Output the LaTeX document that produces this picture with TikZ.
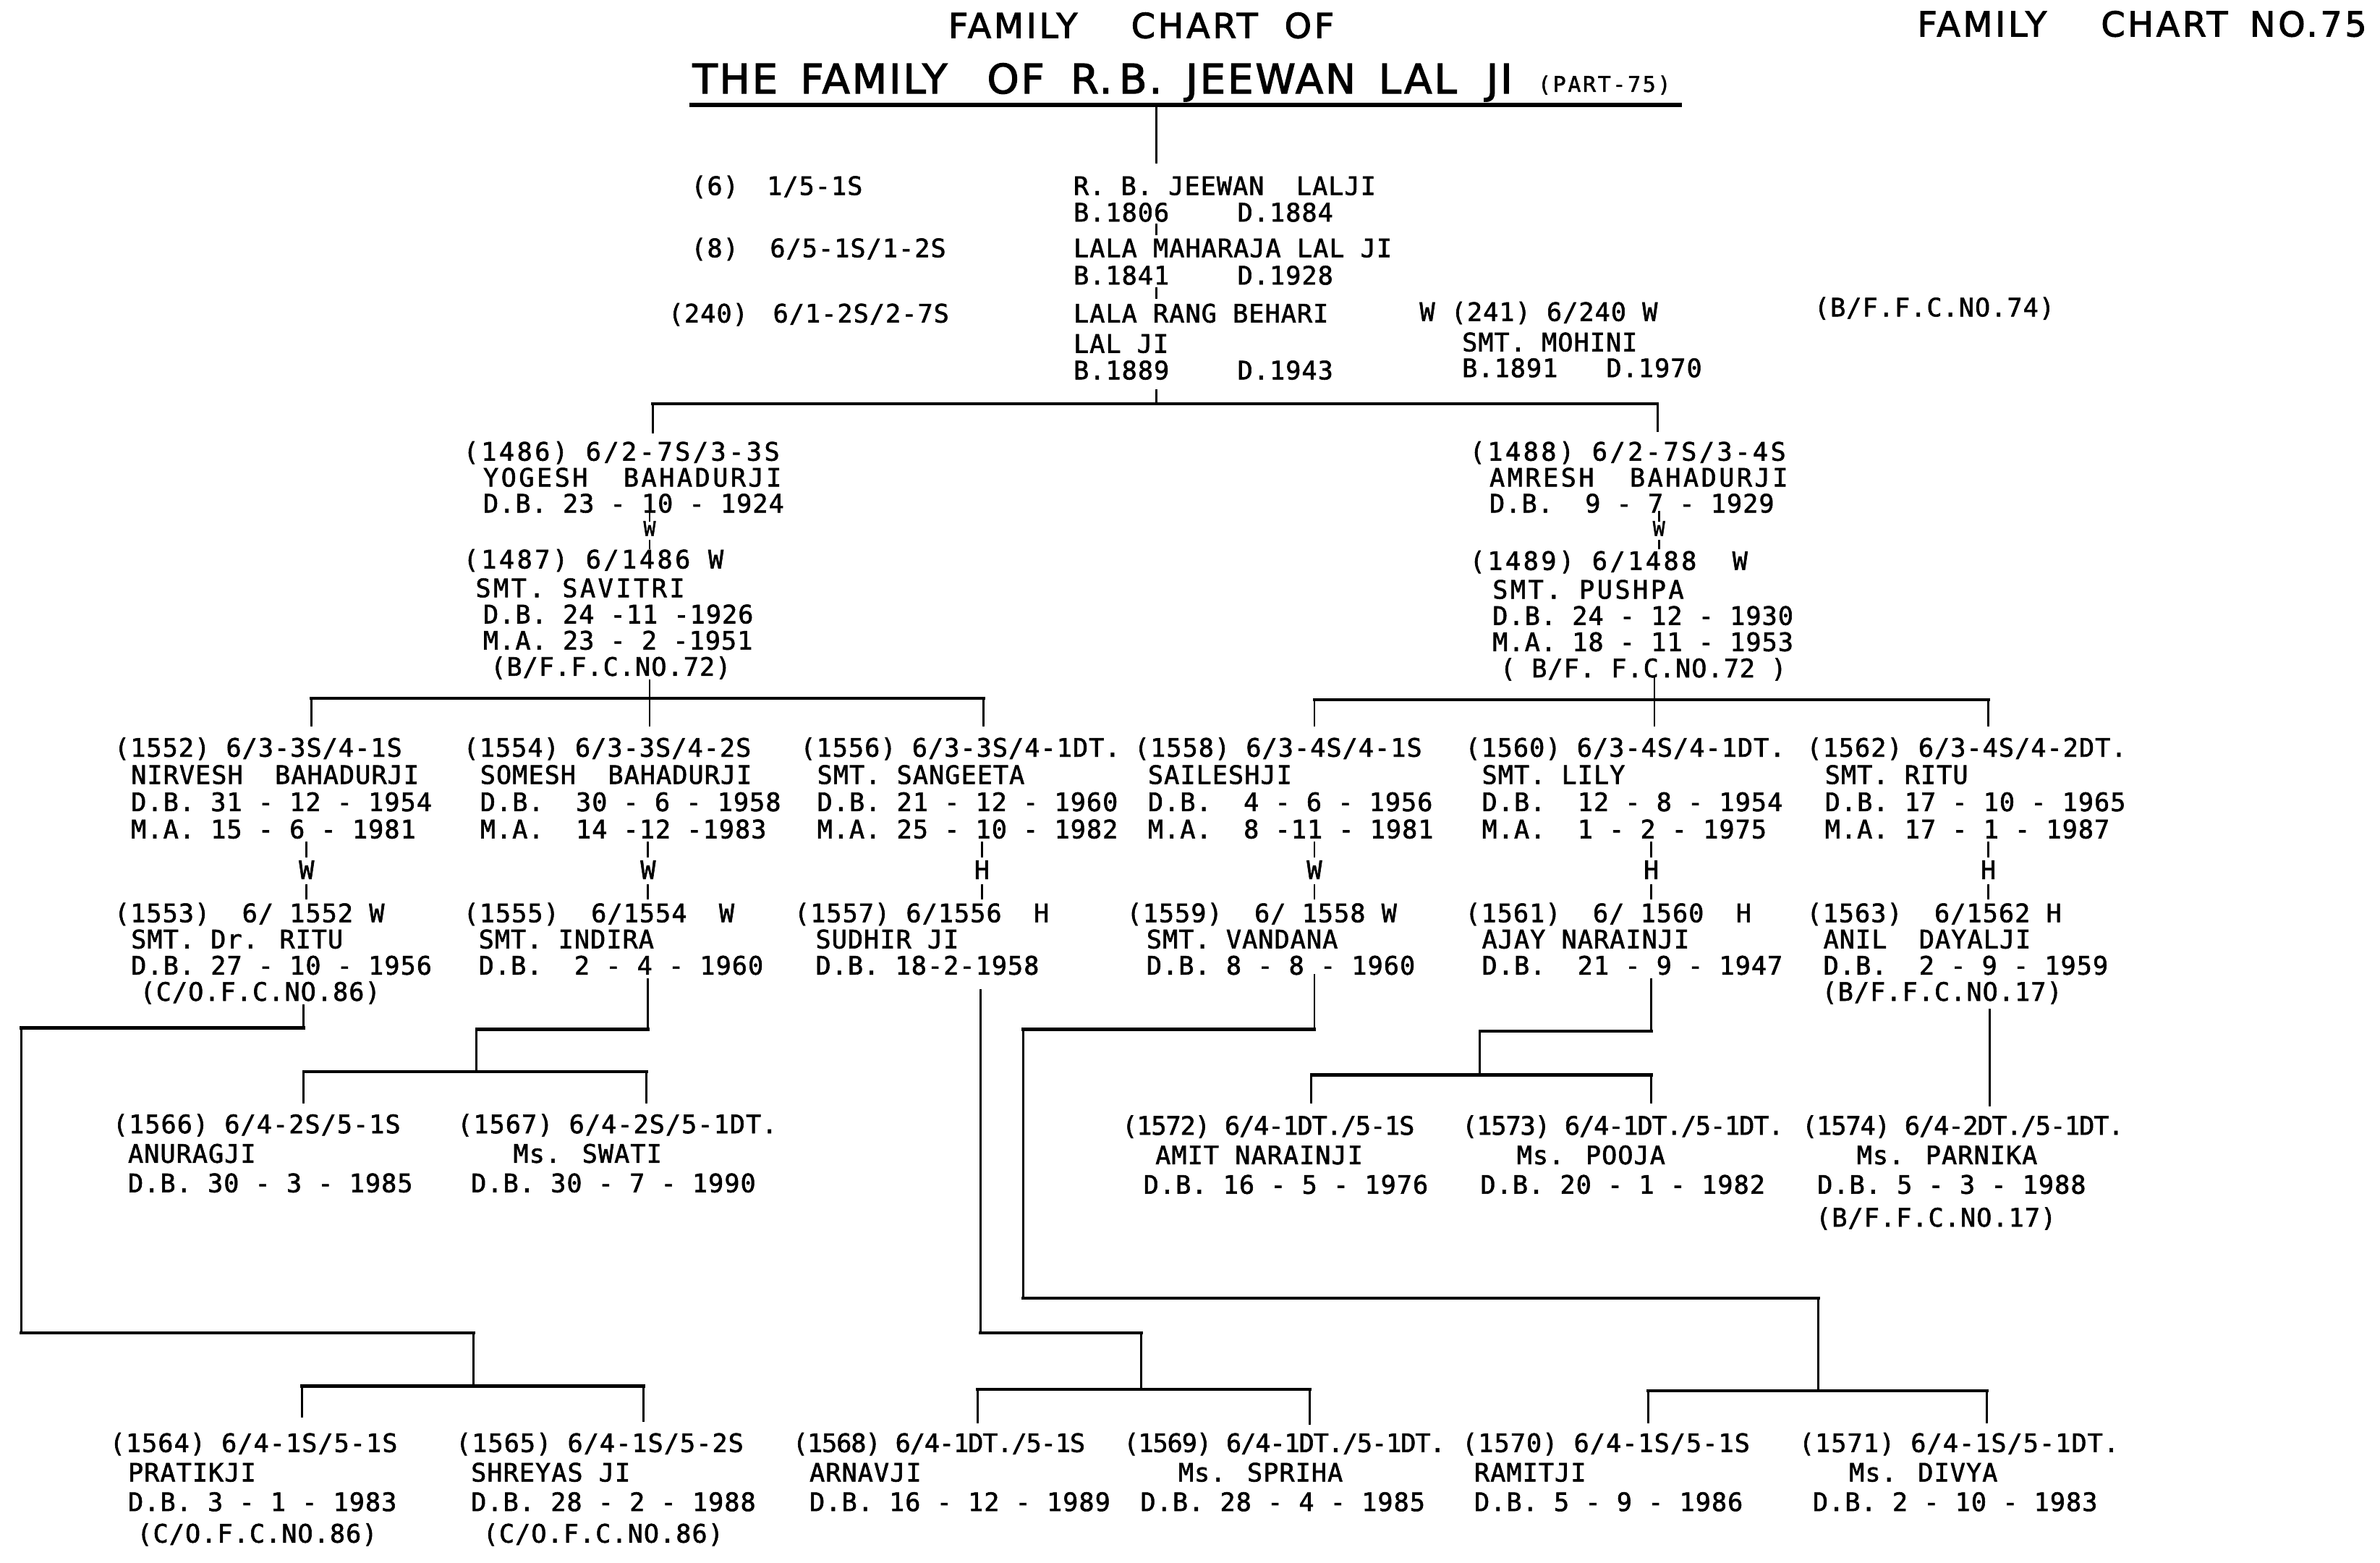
\documentclass[tikz,border=0pt]{standalone}
\usepackage{fontspec}
\newfontfamily\lett{DejaVu Sans Mono}[LetterSpace=3, FakeBold=1.6]
\newfontfamily\letts{DejaVu Sans Mono}[LetterSpace=-3, FakeBold=1.6]
\newfontfamily\lettw{DejaVu Sans Mono}[LetterSpace=10, FakeBold=1.6]
\newfontfamily\titA{DejaVu Sans}[LetterSpace=8, FakeBold=2.2]
\newfontfamily\titB{DejaVu Sans}[LetterSpace=5, FakeBold=2.2]
\newfontfamily\lettTc{DejaVu Sans Mono}[LetterSpace=9, FakeBold=1.6]
\newcommand\ind[1]{\hspace*{#1pt}}
\newcommand\PN[5][]{\node[tx,#1] (#2) at (#3,{#4-9}) {\rule{0pt}{9pt}#5};}
\tikzset{
  tx/.style={anchor=north west, inner sep=0pt, align=left, font=\lett\fontsize{10}{10.7}\selectfont},
  sA/.style={font=\lett\fontsize{10}{10.2}\selectfont},
  sB/.style={font=\lett\fontsize{10}{10.3}\selectfont},
  sC/.style={font=\lett\fontsize{10}{11.6}\selectfont},
  sD/.style={font=\lett\fontsize{10}{11.9}\selectfont},
  ttA/.style={anchor=base west, inner sep=0pt, font=\titA\fontsize{13.5}{15}\selectfont},
  ttB/.style={anchor=base west, inner sep=0pt, font=\titB\fontsize{16}{18}\selectfont},
  ttC/.style={anchor=base west, inner sep=0pt, font=\lettTc\fontsize{8.5}{9}\selectfont},
  wh/.style={anchor=base, inner sep=0pt, font=\lett\fontsize{10}{11}\selectfont},
  whs/.style={anchor=base, inner sep=0pt, font=\lett\fontsize{8}{9}\selectfont},
  vl/.style={line width=0.8pt, line cap=rect},
  hl/.style={line width=1.2pt, line cap=rect},
}
\begin{document}
\begin{tikzpicture}[x=0.02098cm, y=-0.02098cm]
\fill[white] (0,0) rectangle (1568.1,1029.5);
\useasboundingbox (0,0) rectangle (1568.1,1029.5);

% ---------- titles ----------
\node[ttA] (t1a) at (624.5,25) {FAMILY};
\node[ttA] (t1b) at (745,25) {CHART};
\node[ttA] (t1c) at (846,25) {OF};
\node[ttA] (t4a) at (1263,24) {FAMILY};
\node[ttA] (t4b) at (1384,24) {CHART};
\node[ttA] (t4c) at (1482,24) {NO.75};
\node[ttB] (t2a) at (456,61.5) {THE};
\node[ttB] (t2b) at (527,61.5) {FAMILY};
\node[ttB] (t2c) at (650,61.5) {OF};
\node[ttB] (t2d) at (705,61.5) {R.\,B.};
\node[ttB] (t2e) at (781,61.5) {JEEWAN};
\node[ttB] (t2f) at (908,61.5) {LAL};
\node[ttB] (t2g) at (979,61.5) {JI};
\node[ttC] (t3) at (1013,60.5) {(PART-75)};
\coordinate (ulL) at (454,69); \coordinate (ulR) at (1108,69);
\draw[line width=1.6pt] (ulL) -- (ulR);

% ---------- generation 1 ----------
\PN{g6}{455}{122}{(6)}
\PN{g6c}{505}{122}{1/5-1S}
\PN{g8}{455}{163}{(8)}
\PN{g8c}{507}{163}{6/5-1S/1-2S}
\PN{g240}{440}{206}{(240)}
\PN{g240c}{509}{206}{6/1-2S/2-7S}
\PN{rb}{707}{122}{R. B. JEEWAN~~LALJI}
\PN{rbb}{707}{139.5}{B.1806}
\PN{rbd}{815}{139.5}{D.1884}
\PN{lm}{707}{163}{LALA MAHARAJA LAL JI}
\PN{lmb}{707}{181}{B.1841}
\PN{lmd}{815}{181}{D.1928}
\PN[sD]{lr}{707}{206}{LALA RANG BEHARI\\LAL JI}
\PN{lrb}{707}{243.5}{B.1889}
\PN{lrd}{815}{243.5}{D.1943}
\PN{w241}{935}{205}{W (241) 6/240 W}
\PN{moh}{963}{225}{SMT. MOHINI}
\PN{mohb}{963}{242}{B.1891}
\PN{mohd}{1058}{242}{D.1970}
\PN{bf74}{1195}{202}{(B/F.F.C.NO.74)}

\coordinate (r0) at (762,69);
\draw[vl] (r0) -- ++(0,38);
\coordinate (k1) at (762,148); \draw[vl] (k1) -- ++(0,6);
\coordinate (k2) at (762,190); \draw[vl] (k2) -- ++(0,6);
\coordinate (k3) at (762,257); \draw[vl] (k3) -- ++(0,9);
\coordinate (bar1L) at (430,266); \coordinate (bar1R) at (1092,266);
\draw[hl] (bar1L) -- (bar1R);
\draw[vl] (bar1L) -- ++(0,19);
\draw[vl] (bar1R) -- ++(0,18);

% ---------- generation 2 ----------
\PN[sA]{p1486}{305}{297}{{\lettw (1486) 6/2-7S/3-3S}\\\ind{7.8}{\lettw YOGESH~~BAHADURJI}\\\ind{7.8}D.B. 23 - 10 - 1924}
\node[whs] (w1) at (428,353) {W};
\PN[sB]{p1487}{305}{368}{{\lettw (1487) 6/1486 W}\\[1pt]\ind{4.8}{\lettw SMT. SAVITRI}\\\ind{7.8}D.B. 24 -11 -1926\\\ind{7.8}M.A. 23 - 2 -1951\\\ind{10.7}(B/F.F.C.NO.72)}
\PN[sA]{p1488}{968}{297}{{\lettw (1488) 6/2-7S/3-4S}\\\ind{7.8}{\lettw AMRESH~~BAHADURJI}\\\ind{7.8}D.B.~~9 - 7 - 1929}
\node[whs] (w2) at (1093,353) {W};
\PN[sB]{p1489}{968}{369}{{\lettw (1489)~6/1488~~W}\\[1pt]\ind{9}{\lettw SMT. PUSHPA}\\\ind{9}D.B. 24 - 12 - 1930\\\ind{9}M.A. 18 - 11 - 1953\\\ind{12}( B/F. F.C.NO.72 )}

\coordinate (c1) at (428,337); \draw[vl] (c1) -- ++(0,6);
\coordinate (c2) at (428,356); \draw[vl] (c2) -- ++(0,5);
\coordinate (c3) at (1093,337); \draw[vl] (c3) -- ++(0,6);
\coordinate (c4) at (1093,356); \draw[vl] (c4) -- ++(0,5);

\coordinate (b0) at (428,448); \draw[vl] (b0) -- ++(0,12);
\coordinate (bar2L) at (205,460); \coordinate (bar2M) at (428,460); \coordinate (bar2R) at (648,460);
\draw[hl] (bar2L) -- (bar2R);
\foreach \c in {bar2L,bar2M,bar2R} \draw[vl] (\c) -- ++(0,18);
\coordinate (d0) at (1090,447); \draw[vl] (d0) -- ++(0,14);
\coordinate (bar3L) at (866,461); \coordinate (bar3M) at (1090,461); \coordinate (bar3R) at (1310,461);
\draw[hl] (bar3L) -- (bar3R);
\foreach \c in {bar3L,bar3M,bar3R} \draw[vl] (\c) -- ++(0,17);

% ---------- generation 3 ----------
\PN{p1552}{75}{492}{(1552) 6/3-3S/4-1S\\\ind{6.6}NIRVESH~~BAHADURJI\\\ind{6.6}D.B. 31 - 12 - 1954\\\ind{6.6}M.A. 15 - 6 - 1981}
\PN{p1554}{305}{492}{(1554) 6/3-3S/4-2S\\\ind{6.6}SOMESH~~BAHADURJI\\\ind{6.6}D.B.~~30 - 6 - 1958\\\ind{6.6}M.A.~~14 -12 -1983}
\PN{p1556}{527}{492}{(1556) 6/3-3S/4-1DT.\\\ind{6.6}SMT. SANGEETA\\\ind{6.6}D.B. 21 - 12 - 1960\\\ind{6.6}M.A. 25 - 10 - 1982}
\PN{p1558}{747}{492}{(1558) 6/3-4S/4-1S\\\ind{5.4}SAILESHJI\\\ind{5.4}D.B.~~4 - 6 - 1956\\\ind{5.4}M.A.~~8 -11 - 1981}
\PN{p1560}{965}{492}{(1560) 6/3-4S/4-1DT.\\\ind{6.6}SMT.~LILY\\\ind{6.6}D.B.~~12 - 8 - 1954\\\ind{6.6}M.A.~~1 - 2 - 1975}
\PN{p1562}{1190}{492}{(1562) 6/3-4S/4-2DT.\\\ind{7.2}SMT. RITU\\\ind{7.2}D.B. 17 - 10 - 1965\\\ind{7.2}M.A. 17 - 1 - 1987}

\node[wh] (h1) at (202,579) {W};
\node[wh] (h2) at (427,579) {W};
\node[wh] (h3) at (647,579) {H};
\node[wh] (h4) at (866,579) {W};
\node[wh] (h5) at (1088,579) {H};
\node[wh] (h6) at (1310,579) {H};
\foreach \x in {202,427,647,866,1088,1310} {
  \draw[vl] (\x,555) -- (\x,564);
  \draw[vl] (\x,583) -- (\x,592);
}

\PN[sB]{p1553}{75}{601}{(1553)~~6/ 1552 W\\\ind{6.6}SMT. Dr. RITU\\\ind{6.6}D.B. 27 - 10 - 1956\\\ind{10.1}(C/O.F.C.NO.86)}
\PN[sB]{p1555}{305}{601}{(1555)~~6/1554~~W\\\ind{6}SMT. INDIRA\\\ind{6}D.B.~~2 - 4 - 1960}
\PN[sB]{p1557}{523}{601}{(1557) 6/1556~~H\\\ind{8.4}SUDHIR JI\\\ind{8.4}D.B. 18-2-1958}
\PN[sB]{p1559}{742}{601}{(1559)~~6/ 1558 W\\\ind{7.8}SMT. VANDANA\\\ind{7.8}D.B. 8 - 8 - 1960}
\PN[sB]{p1561}{965}{601}{(1561)~~6/ 1560~~H\\\ind{6.6}AJAY NARAINJI\\\ind{6.6}D.B.~~21 - 9 - 1947}
\PN[sB]{p1563}{1190}{601}{(1563)~~6/1562 H\\\ind{6.6}ANIL~~DAYALJI\\\ind{6.6}D.B.~~2 - 9 - 1959\\\ind{6}(B/F.F.C.NO.17)}

% ---------- generation 4 (middle row) ----------
\PN[sC]{p1566}{74}{740}{(1566) 6/4-2S/5-1S\\\ind{6}ANURAGJI\\\ind{6}D.B. 30 - 3 - 1985}
\PN[sC]{p1567}{301}{740}{(1567) 6/4-2S/5-1DT.\\\ind{22}Ms. SWATI\\\ind{5.4}D.B. 30 - 7 - 1990}
\PN[sC]{p1572}{739}{741}{{\letts (1572) 6/4-1DT./5-1S}\\\ind{13.1}AMIT NARAINJI\\\ind{8.4}D.B. 16 - 5 - 1976}
\PN[sC]{p1573}{963}{741}{{\letts (1573) 6/4-1DT./5-1DT.}\\\ind{21.5}Ms. POOJA\\\ind{7.2}D.B. 20 - 1 - 1982}
\PN[sC]{p1574}{1187}{741}{{\letts (1574) 6/4-2DT./5-1DT.}\\\ind{21.5}Ms. PARNIKA\\\ind{6}D.B. 5 - 3 - 1988\\[1.3pt]\ind{5.4}(B/F.F.C.NO.17)}

% ---------- generation 4 (bottom row) ----------
\PN[sC]{p1564}{72}{950}{(1564) 6/4-1S/5-1S\\\ind{7.2}PRATIKJI\\\ind{7.2}D.B. 3 - 1 - 1983\\[0.8pt]\ind{10.7}(C/O.F.C.NO.86)}
\PN[sC]{p1565}{300}{950}{(1565) 6/4-1S/5-2S\\\ind{6}SHREYAS JI\\\ind{6}D.B. 28 - 2 - 1988\\[0.8pt]\ind{10.7}(C/O.F.C.NO.86)}
\PN[sC]{p1568}{522}{950}{{\letts (1568) 6/4-1DT./5-1S}\\\ind{6.6}ARNAVJI\\\ind{6.6}D.B. 16 - 12 - 1989}
\PN[sC]{p1569}{740}{950}{{\letts (1569) 6/4-1DT./5-1DT.}\\\ind{21.5}Ms. SPRIHA\\\ind{6.6}D.B. 28 - 4 - 1985}
\PN[sC]{p1570}{963}{950}{(1570) 6/4-1S/5-1S\\\ind{4.8}RAMITJI\\\ind{4.8}D.B. 5 - 9 - 1986}
\PN[sC]{p1571}{1185}{950}{(1571) 6/4-1S/5-1DT.\\\ind{19.7}Ms. DIVYA\\\ind{5.4}D.B. 2 - 10 - 1983}

% ---------- connectors to children ----------
% A: 1553 -> 1564, 1565
\coordinate (a0) at (200,662); \coordinate (a1) at (200,677);
\coordinate (a2) at (14,677);  \coordinate (a3) at (14,878);
\coordinate (a4) at (312,878); \coordinate (a5) at (312,913);
\coordinate (a6) at (199,913); \coordinate (a7) at (424,913);
\draw[vl] (a0) -- (a1); \draw[hl] (a1) -- (a2); \draw[vl] (a2) -- (a3);
\draw[hl] (a3) -- (a4); \draw[vl] (a4) -- (a5); \draw[hl] (a6) -- (a7);
\draw[vl] (a6) -- ++(0,20); \draw[vl] (a7) -- ++(0,23);
% B: 1555 -> 1566, 1567
\coordinate (e0) at (427,645); \coordinate (e1) at (427,678);
\coordinate (e2) at (314,678); \coordinate (e3) at (314,706);
\coordinate (e4) at (200,706); \coordinate (e5) at (426,706);
\draw[vl] (e0) -- (e1); \draw[hl] (e1) -- (e2); \draw[vl] (e2) -- (e3);
\draw[hl] (e4) -- (e5);
\draw[vl] (e4) -- ++(0,20); \draw[vl] (e5) -- ++(0,20);
% C: 1557 -> 1568, 1569
\coordinate (f0) at (646,652); \coordinate (f1) at (646,878);
\coordinate (f2) at (752,878); \coordinate (f3) at (752,915);
\coordinate (f4) at (644,915); \coordinate (f5) at (863,915);
\draw[vl] (f0) -- (f1); \draw[hl] (f1) -- (f2); \draw[vl] (f2) -- (f3);
\draw[hl] (f4) -- (f5);
\draw[vl] (f4) -- ++(0,22); \draw[vl] (f5) -- ++(0,23);
% D: 1559 -> 1570, 1571
\coordinate (m0) at (866,642); \coordinate (m1) at (866,678);
\coordinate (m2) at (674,678); \coordinate (m3) at (674,855);
\coordinate (m4) at (1198,855); \coordinate (m5) at (1198,916);
\coordinate (m6) at (1086,916); \coordinate (m7) at (1309,916);
\draw[vl] (m0) -- (m1); \draw[hl] (m1) -- (m2); \draw[vl] (m2) -- (m3);
\draw[hl] (m3) -- (m4); \draw[vl] (m4) -- (m5); \draw[hl] (m6) -- (m7);
\draw[vl] (m6) -- ++(0,21); \draw[vl] (m7) -- ++(0,21);
% E: 1561 -> 1572, 1573
\coordinate (n0) at (1088,645); \coordinate (n1) at (1088,679);
\coordinate (n2) at (975,679);  \coordinate (n3) at (975,708);
\coordinate (n4) at (864,708);  \coordinate (n5) at (1088,708);
\draw[vl] (n0) -- (n1); \draw[hl] (n1) -- (n2); \draw[vl] (n2) -- (n3);
\draw[hl] (n4) -- (n5);
\draw[vl] (n4) -- ++(0,18); \draw[vl] (n5) -- ++(0,18);
% F: 1563 -> 1574
\coordinate (q0) at (1311,665); \coordinate (q1) at (1311,728);
\draw[vl] (q0) -- (q1);
\end{tikzpicture}
\end{document}
